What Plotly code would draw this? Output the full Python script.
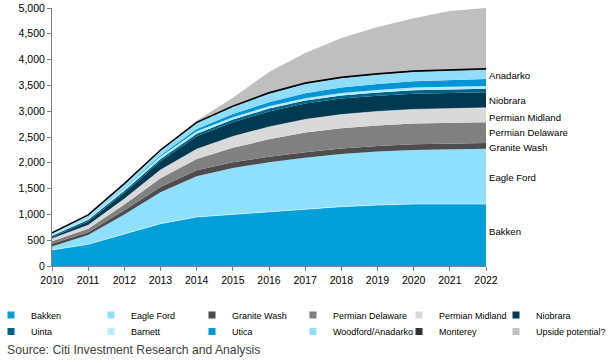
import plotly.graph_objects as go

years = list(range(2010, 2023))

series_names = ["Bakken", "Eagle Ford", "Granite Wash", "Permian Delaware", "Permian Midland",
                "Niobrara", "Uinta", "Barnett", "Utica", "Woodford/Anadarko", "Monterey",
                "Upside potential?"]

bakken = [310, 420, 620, 820, 950, 1000, 1050, 1100, 1150, 1180, 1200, 1200, 1200]
eagle_ford = [70, 180, 380, 610, 790, 900, 960, 1000, 1020, 1040, 1050, 1060, 1070]
granite_wash = [50, 55, 80, 100, 115, 110, 105, 105, 105, 105, 110, 110, 115]
permian_delaware = [50, 65, 110, 170, 220, 280, 340, 380, 395, 400, 400, 400, 400]
permian_midland = [50, 70, 110, 160, 190, 220, 240, 255, 265, 270, 275, 280, 280]
niobrara = [30, 70, 120, 170, 250, 275, 300, 310, 310, 305, 305, 300, 300]
uinta = [25, 35, 40, 45, 50, 52, 55, 58, 60, 63, 65, 68, 70]
barnett = [30, 40, 45, 45, 45, 45, 45, 45, 48, 50, 52, 54, 55]
utica = [0, 5, 10, 25, 45, 65, 80, 95, 105, 115, 122, 130, 135]
woodford = [20, 40, 70, 90, 115, 135, 165, 180, 180, 180, 180, 180, 180]
monterey = [10, 10, 12, 14, 15, 16, 17, 18, 18, 19, 19, 20, 20]
upside = [0, 0, 0, 0, 30, 162, 403, 584, 764, 903, 1022, 1138, 1175]

series_values = [bakken, eagle_ford, granite_wash, permian_delaware, permian_midland,
                 niobrara, uinta, barnett, utica, woodford, monterey, upside]

colors = ["#009FDA", "#8FE0FF", "#4D4D4F", "#808080", "#D9D9D9", "#003A52",
          "#006585", "#B8EAFF", "#0096D6", "#8FDDFA", "#333333", "#BFBFBF"]

# right-hand labels (text, y value)
label_texts = ["Anadarko", "Niobrara", "Permian Midland", "Permian Delaware",
               "Granite Wash", "Eagle Ford", "Bakken"]
label_values = [3700, 3215, 2880, 2580, 2300, 1720, 660]

FONT = "Liberation Sans, Arial, sans-serif"
PLOT_L, PLOT_W = 52, 434

fig = go.Figure()

for i, (name, vals, col) in enumerate(zip(series_names, series_values, colors)):
    if name == "Monterey":
        line = dict(color="#000000", width=1.5)
    elif name in ("Bakken", "Permian Midland"):
        line = dict(color="rgba(255,255,255,0.75)", width=0.7)
    else:
        line = dict(color=col, width=0)
    fig.add_trace(go.Scatter(
        x=years, y=vals, name=name, mode="lines", stackgroup="one",
        line=line, fillcolor=col, showlegend=False, hoverinfo="x+y+name"))

# legend: one small legend per entry, arranged 6 columns x 2 rows
text_starts = [31, 131, 232, 333, 439, 536]
row_tops = [300.5, 317.0]
legend_layout = {}
for i, (name, col) in enumerate(zip(series_names, colors)):
    key = "legend" if i == 0 else f"legend{i + 1}"
    fig.add_trace(go.Scatter(
        x=[None], y=[None], name=name, mode="markers",
        marker=dict(symbol="square", size=7, color=col, line=dict(width=0)),
        legend=key, showlegend=True))
    legend_layout[key] = dict(
        orientation="v", traceorder="normal", tracegroupgap=0,
        font=dict(family=FONT, size=9, color="#000000"),
        bgcolor="rgba(0,0,0,0)", xref="paper", yref="container",
        xanchor="left", yanchor="top",
        x=(text_starts[i % 6] - 40 - PLOT_L) / PLOT_W, y=(363 - row_tops[i // 6]) / 363,
        itemclick=False, itemdoubleclick=False)

annotations = []
for t, v in zip(label_texts, label_values):
    annotations.append(dict(x=2022, y=v, xref="x", yref="y", text=t, showarrow=False,
                            xanchor="left", yanchor="middle", xshift=1,
                            font=dict(family=FONT, size=9.6, color="#000000")))
annotations.append(dict(x=(5 - PLOT_L) / PLOT_W, y=(266 - 350) / 258, xref="paper", yref="paper",
                        text="Source: Citi Investment Research and Analysis", showarrow=False,
                        xanchor="left", yanchor="middle",
                        font=dict(family=FONT, size=12.2, color="#404040")))

fig.update_layout(
    width=612, height=363,
    margin=dict(l=PLOT_L, r=612 - PLOT_L - PLOT_W, t=8, b=97, autoexpand=False),
    paper_bgcolor="white", plot_bgcolor="white",
    font=dict(family=FONT, size=10.5, color="#000000"),
    annotations=annotations,
    hovermode="closest",
    **legend_layout,
)

fig.update_xaxes(range=[2010, 2022], tickmode="array", tickvals=years,
                 ticktext=[str(y) for y in years],
                 showgrid=False, zeroline=False, showline=True, linecolor="#808080",
                 linewidth=1, ticks="outside", ticklen=4, tickcolor="#808080",
                 tickfont=dict(family=FONT, size=10.5, color="#000000"))
fig.update_yaxes(range=[0, 5000], dtick=500, tickformat=",",
                 showgrid=False, zeroline=False, showline=True, linecolor="#808080",
                 linewidth=1, ticks="outside", ticklen=4, tickcolor="#808080",
                 tickfont=dict(family=FONT, size=10.5, color="#000000"))

fig.write_html("out.html", config={"displayModeBar": False},
               post_script="document.body.style.margin='0';document.body.style.overflow='hidden';")
